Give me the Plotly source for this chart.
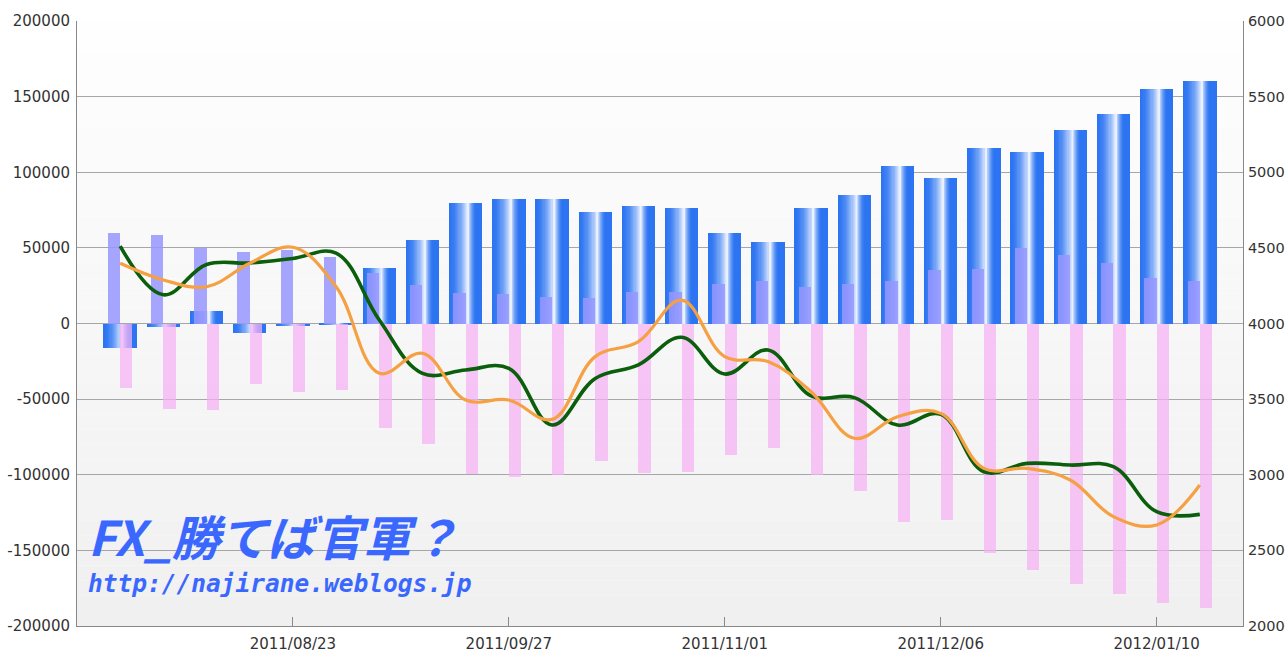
import plotly.graph_objects as go

# ---------------- data ----------------
dates = ["2011-07-26", "2011-08-02", "2011-08-09", "2011-08-16", "2011-08-23", "2011-08-30",
         "2011-09-06", "2011-09-13", "2011-09-20", "2011-09-27", "2011-10-04", "2011-10-11",
         "2011-10-18", "2011-10-25", "2011-11-01", "2011-11-08", "2011-11-15", "2011-11-22",
         "2011-11-29", "2011-12-06", "2011-12-13", "2011-12-20", "2011-12-27", "2012-01-03",
         "2012-01-10", "2012-01-17"]

balance = [-16500, -2000, 8300, -6000, -1800, -600, 37000, 55200, 80000, 82300, 82300, 73900,
           77900, 76400, 60000, 53900, 76400, 85000, 104100, 96200, 116200, 113600, 128100,
           138500, 155000, 160300]

gains = [60000, 58300, 49700, 47100, 48600, 44200, 33200, 25500, 20400, 19500, 17700, 16900,
         21000, 21000, 26300, 28100, 23900, 26300, 28100, 35200, 35800, 49700, 45300, 40200,
         29900, 28100]

losses = [-42400, -56300, -57200, -39800, -45300, -44200, -69300, -79700, -99500, -101300,
          -100200, -90700, -99100, -98000, -86700, -82100, -100200, -110700, -131000, -129900,
          -152000, -163000, -172500, -178900, -185000, -188300]

green_line = [4512, 4190, 4390, 4400, 4430, 4465, 4023, 3670, 3693, 3704, 3329, 3637, 3726,
              3909, 3666, 3825, 3521, 3510, 3329, 3400, 3020, 3075, 3064, 3053, 2756, 2738]

orange_line = [4398, 4288, 4243, 4398, 4504, 4243, 3671, 3803, 3494, 3494, 3366, 3781, 3880,
               4155, 3781, 3748, 3549, 3241, 3384, 3406, 3042, 3042, 2965, 2723, 2668, 2932]

left_ticks = [200000, 150000, 100000, 50000, 0, -50000, -100000, -150000, -200000]
left_labels = ["200000", "150000", "100000", "50000", "0", "-50000", "-100000", "-150000", "-200000"]
right_ticks = [2000, 2500, 3000, 3500, 4000, 4500, 5000, 5500, 6000]
x_ticks = ["2011-08-23", "2011-09-27", "2011-11-01", "2011-12-06", "2012-01-10"]
x_labels = ["2011/08/23", "2011/09/27", "2011/11/01", "2011/12/06", "2012/01/10"]

title_text = "FX_勝てば官軍？"
url_text = "http://najirane.weblogs.jp"

# ---------------- styling helpers ----------------
MS_PER_PX = 7 * 86400000 / 43.2
BAR_W = 33.4 * MS_PER_PX
SUB_W = 12.3 * MS_PER_PX

blue = (44, 116, 242)
white = (244, 248, 255)


def mix(c1, c2, t):
    return "rgb(%d,%d,%d)" % tuple(round(a + (b - a) * t) for a, b in zip(c1, c2))


fig = go.Figure()

# base blue bar
fig.add_trace(go.Bar(x=dates, y=balance, width=BAR_W, offset=-BAR_W / 2,
                     marker=dict(color=mix(blue, white, 0), line=dict(width=0)),
                     showlegend=False, hoverinfo="skip"))
# cylinder highlight layers (nested)
peak = -BAR_W / 2 + 0.57 * BAR_W
K = 16
for k in range(1, K + 1):
    s = 1 - k / (K + 0.5)
    left = peak - s * 0.57 * BAR_W
    right = peak + s * 0.25 * BAR_W
    fig.add_trace(go.Bar(x=dates, y=balance, width=right - left, offset=left,
                         marker=dict(color=mix(blue, white, (1 - s) ** 1.7), line=dict(width=0)),
                         showlegend=False, hoverinfo="skip"))

fig.add_trace(go.Bar(x=dates, y=gains, width=SUB_W, offset=-SUB_W,
                     marker=dict(color="rgba(150,150,255,0.85)", line=dict(width=0)),
                     showlegend=False))
fig.add_trace(go.Bar(x=dates, y=losses, width=SUB_W, offset=0,
                     marker=dict(color="rgba(245,178,245,0.72)", line=dict(width=0)),
                     showlegend=False))

fig.add_trace(go.Scatter(x=dates, y=green_line, yaxis="y2", mode="lines",
                         line=dict(color="#0b5e0b", width=3.6, shape="spline", smoothing=1.1),
                         showlegend=False))
fig.add_trace(go.Scatter(x=dates, y=orange_line, yaxis="y2", mode="lines",
                         line=dict(color="#f5a042", width=3.2, shape="spline", smoothing=1.1),
                         showlegend=False))

# background gradient
shapes = []
N = 40
for i in range(N):
    t = i / (N - 1)
    g = round(254 - 14 * t)
    shapes.append(dict(type="rect", xref="x domain", yref="y domain", x0=0, x1=1,
                       y0=1 - (i + 1) / N, y1=1 - i / N, layer="below",
                       fillcolor="rgb(%d,%d,%d)" % (g, g, g), line=dict(width=0)))

tick_font = dict(family="DejaVu Sans", size=15, color="#333333")
right_font = dict(family="DejaVu Sans", size=14.5, color="#333333")

fig.update_layout(
    width=1285, height=652,
    margin=dict(l=77, r=42, t=21, b=26, autoexpand=False),
    paper_bgcolor="white", plot_bgcolor="rgba(0,0,0,0)",
    barmode="overlay", bargap=0,
    shapes=shapes,
    xaxis=dict(type="date", range=["2011-07-19", "2012-01-24"], showgrid=False,
               tickvals=x_ticks, ticktext=x_labels, ticks="inside", ticklen=9,
               tickcolor="#888888", showline=True, linecolor="#888888", linewidth=1,
               tickfont=tick_font, ticklabelstandoff=4, automargin=False),
    yaxis=dict(range=[-200000, 200000], tickvals=left_ticks, ticktext=left_labels,
               showgrid=True, gridcolor="#a6a6a6", gridwidth=1, zeroline=False,
               showline=True, linecolor="#888888", linewidth=1, tickfont=tick_font,
               ticklabelstandoff=3, automargin=False),
    yaxis2=dict(range=[2000, 6000], tickvals=right_ticks, overlaying="y", side="right",
                showgrid=False, zeroline=False, showline=True, linecolor="#888888",
                linewidth=1, tickfont=right_font, ticklabelstandoff=1, automargin=False),
    annotations=[
        dict(text=title_text, xref="paper", yref="paper", x=0.008, y=0.150,
             xanchor="left", yanchor="middle", showarrow=False,
             font=dict(family="Noto Sans CJK JP", size=48, color="#3a68ff",
                       weight="bold", style="italic")),
        dict(text=url_text, xref="paper", yref="paper", x=0.008, y=0.070,
             xanchor="left", yanchor="middle", showarrow=False,
             font=dict(family="DejaVu Sans Mono", size=24.5, color="#3a68ff",
                       weight="bold", style="italic")),
    ],
)

# remove the default page margin so the 1285x652 figure fills the window exactly
fig.write_html("out.html",
               config={"displayModeBar": False},
               post_script="document.body.style.margin='0';document.body.style.overflow='hidden';")
